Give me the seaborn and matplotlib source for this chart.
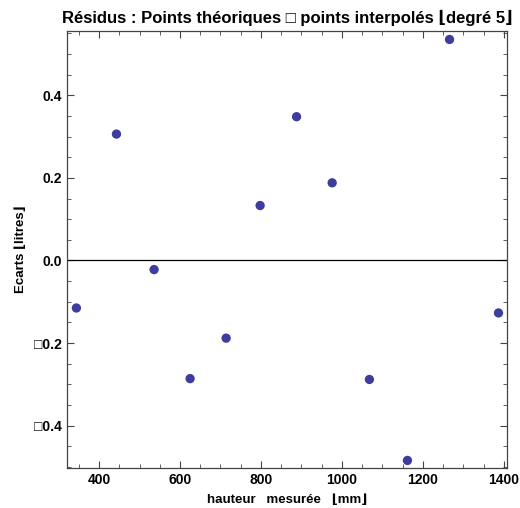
import numpy as np
import pandas as pd
import matplotlib
matplotlib.use('Agg')
import matplotlib.pyplot as plt
from matplotlib.ticker import MultipleLocator, FuncFormatter
import seaborn as sns

# ── Data ───────────────────────────────────────────────────────────────────
hauteur = [344, 443, 536, 625, 714, 798, 888, 976, 1068, 1162, 1266, 1387]
ecarts = [-0.115, 0.306, -0.022, -0.286, -0.188, 0.133, 0.348, 0.188, -0.288, -0.484, 0.535, -0.127]

title = "Résidus : Points théoriques \u25a1 points interpolés \u230adegré 5\u230b"
xlabel = "hauteur   mesurée   \u230amm\u230b"
ylabel = "Ecarts \u230alitres\u230b"

df = pd.DataFrame({'hauteur': hauteur, 'ecarts': ecarts})

sns.set_style('ticks')
plt.rcParams['font.family'] = ['Liberation Sans', 'DejaVu Sans']
plt.rcParams['text.color'] = 'black'
plt.rcParams['axes.labelcolor'] = 'black'

fig = plt.figure(figsize=(5.2, 5.08), dpi=100)
ax = fig.add_axes([0.129, 0.079, 0.846, 0.860])

ax.axhline(0, color='black', lw=0.9, zorder=1)
sns.scatterplot(data=df, x='hauteur', y='ecarts', ax=ax, color='#3d3d9e',
                s=45, edgecolor='none', zorder=3)

ax.set_xlim(321, 1408)
ax.set_ylim(-0.502, 0.5555)
ax.xaxis.set_major_locator(MultipleLocator(200))
ax.xaxis.set_minor_locator(MultipleLocator(50))
ax.yaxis.set_major_locator(MultipleLocator(0.2))
ax.yaxis.set_minor_locator(MultipleLocator(0.05))
ax.yaxis.set_major_formatter(FuncFormatter(
    lambda v, p: ('\u25a1' if v < -1e-9 else '') + f"{abs(v):.1f}"))

ax.tick_params(which='both', direction='in', top=True, right=True,
               labelsize=10, colors='#444444', labelcolor='black', pad=4)
ax.tick_params(which='major', length=5, width=0.8)
ax.tick_params(which='minor', length=3, width=0.6)
for lab in ax.get_xticklabels() + ax.get_yticklabels():
    lab.set_fontweight('bold')
for sp in ax.spines.values():
    sp.set_color('#444444')
    sp.set_linewidth(0.9)

ax.set_title(title, fontsize=12, fontweight='bold', pad=6, color='black')
ax.set_xlabel(xlabel, fontsize=9.5, fontweight='bold', labelpad=5)
ax.set_ylabel(ylabel, fontsize=9.5, fontweight='bold', labelpad=5)

fig.savefig('out.png', dpi=100, facecolor='white')
